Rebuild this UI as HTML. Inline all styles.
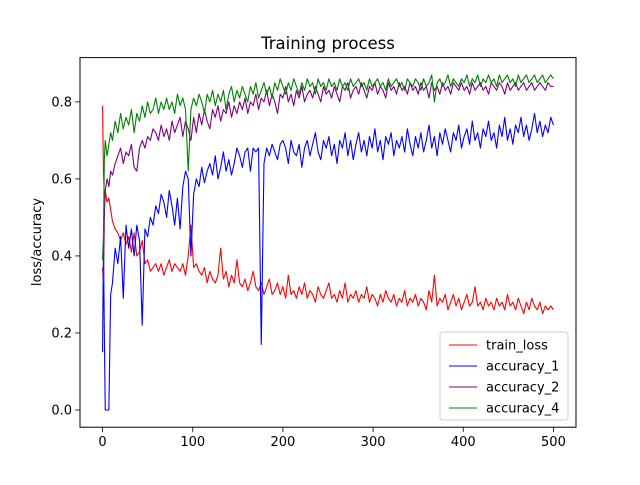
<!DOCTYPE html>
<html><head><meta charset="utf-8"><style>
body{margin:0;background:#fff}
svg text{font-family:"DejaVu Sans","Liberation Sans",sans-serif;fill:#000}
</style></head><body>
<svg id="chart" width="640" height="480" viewBox="0 0 640 480" xmlns="http://www.w3.org/2000/svg">
<rect width="640" height="480" fill="#fff"/>
<text x="328" y="49" font-size="16.5" text-anchor="middle">Training process</text>
<text transform="translate(41,242) rotate(-90)" font-size="13" text-anchor="middle">loss/accuracy</text>
<g id="plot"></g>
<rect x="80" y="57.6" width="496" height="369.6" fill="none" stroke="#000" stroke-width="1"/>
<g id="ticks"></g>
<g id="legend"></g>
</svg>
<script>
const xTicks=[0,100,200,300,400,500];
const yTicks=[0.0,0.2,0.4,0.6,0.8];
const yTickLabels=["0.0","0.2","0.4","0.6","0.8"];
const seriesNames=["train_loss","accuracy_1","accuracy_2","accuracy_4"];
const seriesColors=["#ff0000","#0000ff","#800080","#008000"];
const epochs=[0,1,2,3,5,7,9];
for(let e=11;e<=497;e+=3)epochs.push(e);
epochs.push(500);
const trainLoss=[0.79,0.62,0.55,0.57,0.54,0.55,0.52,
0.49,0.47,0.46,0.44,0.46,0.43,0.45,0.41,0.46,0.40,
0.41,0.44,0.38,0.39,0.36,0.37,0.38,0.36,0.38,0.35,
0.37,0.39,0.36,0.38,0.37,0.36,0.38,0.35,0.40,0.48,
0.37,0.38,0.36,0.35,0.37,0.33,0.36,0.34,0.33,0.35,
0.42,0.34,0.36,0.32,0.35,0.33,0.39,0.33,0.32,0.34,
0.31,0.33,0.36,0.32,0.31,0.33,0.30,0.32,0.34,0.30,
0.31,0.33,0.30,0.32,0.29,0.35,0.30,0.31,0.29,0.32,
0.30,0.33,0.29,0.31,0.30,0.28,0.32,0.30,0.29,0.31,
0.33,0.29,0.30,0.28,0.31,0.29,0.33,0.28,0.30,0.29,
0.31,0.28,0.30,0.29,0.32,0.28,0.30,0.29,0.27,0.30,
0.28,0.31,0.29,0.28,0.30,0.27,0.29,0.28,0.31,0.27,
0.29,0.28,0.30,0.27,0.29,0.28,0.26,0.31,0.28,0.35,
0.27,0.29,0.28,0.30,0.26,0.28,0.30,0.27,0.29,0.26,
0.28,0.30,0.27,0.28,0.32,0.27,0.28,0.26,0.29,0.27,
0.28,0.26,0.29,0.27,0.28,0.26,0.30,0.27,0.28,0.26,
0.29,0.27,0.25,0.28,0.26,0.29,0.27,0.26,0.28,0.25,
0.27,0.26,0.27,0.26];
const accuracy1=[0.15,0.43,0.20,0.0,0.0,0.0,0.30,
0.33,0.42,0.38,0.45,0.29,0.48,0.42,0.47,0.40,0.48,
0.44,0.22,0.47,0.45,0.50,0.48,0.53,0.51,0.56,0.54,
0.50,0.57,0.53,0.48,0.55,0.47,0.58,0.62,0.60,0.40,
0.56,0.60,0.58,0.63,0.59,0.62,0.64,0.61,0.66,0.60,
0.63,0.67,0.62,0.65,0.61,0.64,0.68,0.66,0.63,0.67,
0.68,0.62,0.68,0.67,0.68,0.17,0.64,0.68,0.66,0.69,
0.67,0.65,0.69,0.70,0.68,0.64,0.70,0.67,0.66,0.69,
0.63,0.68,0.70,0.66,0.69,0.72,0.67,0.65,0.70,0.68,
0.71,0.66,0.69,0.64,0.70,0.68,0.72,0.66,0.70,0.65,
0.69,0.72,0.67,0.70,0.66,0.71,0.68,0.73,0.67,0.70,
0.65,0.71,0.69,0.72,0.66,0.70,0.68,0.71,0.67,0.73,
0.69,0.66,0.71,0.68,0.72,0.67,0.70,0.74,0.68,0.71,
0.66,0.72,0.69,0.73,0.70,0.67,0.72,0.70,0.74,0.68,
0.71,0.73,0.69,0.75,0.70,0.72,0.68,0.73,0.71,0.75,
0.70,0.72,0.68,0.74,0.71,0.76,0.70,0.73,0.69,0.74,
0.72,0.76,0.71,0.74,0.70,0.73,0.77,0.72,0.75,0.71,
0.74,0.72,0.76,0.74];
const accuracy2=[0.37,0.33,0.50,0.57,0.60,0.58,0.62,
0.61,0.64,0.66,0.68,0.64,0.67,0.66,0.69,0.63,0.62,
0.68,0.70,0.68,0.71,0.70,0.73,0.72,0.70,0.74,0.71,
0.73,0.70,0.75,0.72,0.74,0.76,0.71,0.75,0.73,0.70,
0.76,0.72,0.77,0.74,0.78,0.75,0.73,0.78,0.76,0.79,
0.75,0.78,0.77,0.80,0.76,0.79,0.77,0.80,0.78,0.81,
0.77,0.80,0.79,0.82,0.78,0.81,0.80,0.83,0.79,0.82,
0.80,0.77,0.82,0.81,0.84,0.80,0.82,0.79,0.83,0.81,
0.84,0.80,0.82,0.83,0.81,0.84,0.82,0.80,0.84,0.82,
0.83,0.81,0.84,0.82,0.80,0.84,0.83,0.85,0.81,0.83,
0.84,0.82,0.85,0.83,0.81,0.84,0.83,0.85,0.82,0.84,
0.83,0.81,0.85,0.83,0.84,0.82,0.85,0.83,0.84,0.82,
0.85,0.83,0.84,0.82,0.85,0.83,0.84,0.81,0.85,0.83,
0.84,0.82,0.85,0.83,0.84,0.82,0.85,0.84,0.83,0.85,
0.83,0.84,0.82,0.85,0.83,0.84,0.85,0.83,0.84,0.82,
0.85,0.84,0.83,0.85,0.84,0.82,0.85,0.83,0.84,0.85,
0.83,0.84,0.85,0.83,0.84,0.85,0.83,0.84,0.85,0.84,
0.83,0.85,0.84,0.84];
const accuracy4=[0.39,0.45,0.65,0.70,0.66,0.69,0.72,
0.70,0.75,0.72,0.77,0.73,0.76,0.74,0.78,0.72,0.77,
0.75,0.79,0.76,0.80,0.77,0.78,0.81,0.77,0.80,0.78,
0.81,0.78,0.80,0.77,0.82,0.79,0.81,0.78,0.62,0.78,
0.81,0.79,0.82,0.80,0.77,0.82,0.80,0.83,0.79,0.82,
0.80,0.83,0.78,0.82,0.84,0.80,0.83,0.81,0.84,0.82,
0.80,0.84,0.82,0.85,0.81,0.83,0.85,0.82,0.84,0.81,
0.85,0.83,0.86,0.84,0.82,0.85,0.83,0.86,0.84,0.82,
0.85,0.83,0.86,0.84,0.85,0.82,0.86,0.84,0.85,0.83,
0.86,0.84,0.85,0.83,0.86,0.84,0.85,0.83,0.86,0.84,
0.85,0.86,0.84,0.85,0.83,0.86,0.84,0.85,0.86,0.84,
0.85,0.83,0.86,0.84,0.85,0.86,0.84,0.85,0.83,0.86,
0.85,0.84,0.86,0.85,0.83,0.86,0.84,0.85,0.87,0.80,
0.85,0.86,0.84,0.85,0.87,0.84,0.86,0.85,0.84,0.86,
0.85,0.87,0.84,0.86,0.85,0.87,0.84,0.86,0.85,0.87,
0.85,0.86,0.84,0.87,0.85,0.86,0.87,0.85,0.86,0.84,
0.87,0.85,0.86,0.87,0.85,0.86,0.87,0.85,0.86,0.87,
0.85,0.86,0.87,0.86];

const NS="http://www.w3.org/2000/svg";
const L=80,R=576,T=57.6,B=427.2;
const xMin=-25,xMax=525,yMin=-0.0447,yMax=0.915;
function sx(v){return L+(v-xMin)/(xMax-xMin)*(R-L);}
function sy(v){return B-(v-yMin)/(yMax-yMin)*(B-T);}
function mk(tag,attrs,parent){const e=document.createElementNS(NS,tag);for(const k in attrs)e.setAttribute(k,attrs[k]);parent.appendChild(e);return e;}

const plot=document.getElementById('plot');
const allSeries=[trainLoss,accuracy1,accuracy2,accuracy4];
allSeries.forEach((vals,si)=>{
  const n=Math.min(vals.length,epochs.length);
  let d='';
  for(let i=0;i<n;i++)d+=(i?'L':'M')+sx(epochs[i]).toFixed(2)+' '+sy(vals[i]).toFixed(2);
  const p=mk('path',{d:d,fill:'none',stroke:seriesColors[si],'stroke-width':1.1,'stroke-linejoin':'round'},plot);
  
  
});

const ticks=document.getElementById('ticks');
xTicks.forEach(v=>{
  const x=sx(v);
  const t=mk('line',{x1:x,x2:x,y1:B,y2:B+4.9,stroke:'#000','stroke-width':0.8},ticks);
  
  
  const tx=mk('text',{x:x,y:B+19,'font-size':13,'text-anchor':'middle'},ticks);
  tx.textContent=String(v);
  
  
});
yTicks.forEach((v,i)=>{
  const y=sy(v);
  const t=mk('line',{x1:L-4.9,x2:L,y1:y,y2:y,stroke:'#000','stroke-width':0.8},ticks);
  
  
  const tx=mk('text',{x:L-8,y:y+4.5,'font-size':13,'text-anchor':'end'},ticks);
  tx.textContent=yTickLabels[i];
  
  
});

const lg=document.getElementById('legend');
const box=mk('rect',{x:440,y:332,width:128,height:88,rx:3,fill:'#fff','fill-opacity':0.8,stroke:'#ccc','stroke-width':1},lg);


seriesNames.forEach((nm,i)=>{
  const y=345+i*21;
  const ln=mk('line',{x1:449,x2:477,y1:y,y2:y,stroke:seriesColors[i],'stroke-width':1.1},lg);
  
  
  const tx=mk('text',{x:486,y:y+4.5,'font-size':13},lg);
  tx.textContent=nm;
  
  
});
</script>
</body></html>
